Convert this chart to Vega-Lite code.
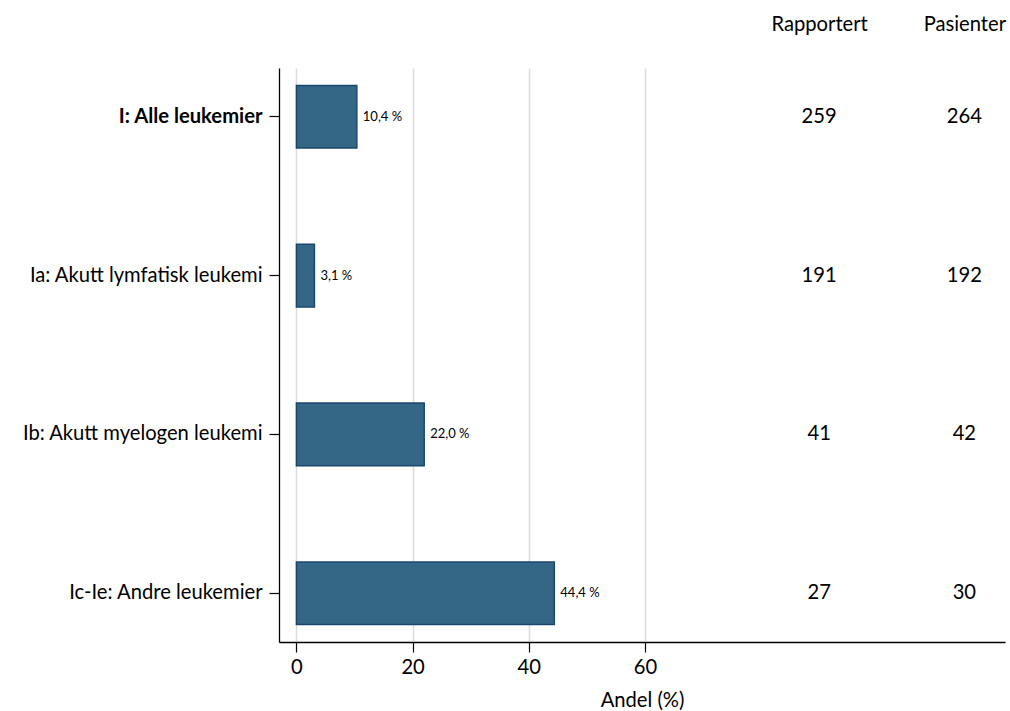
{
  "$schema": "https://vega.github.io/schema/vega-lite/v6.json",
  "width": 726,
  "height": 574,
  "autosize": "none",
  "padding": {"left": 279, "top": 68, "right": 5, "bottom": 69},
  "background": "white",
  "config": {
    "font": "Lato",
    "view": {"stroke": null},
    "axis": {"labelColor": "#000000", "titleColor": "#000000", "domainColor": "#000000", "tickColor": "#000000"}
  },
  "data": {
    "values": [
      {"gruppe": "I: Alle leukemier\u00a0", "andel": 10.4, "etikett": "10,4 %", "rapportert": 259, "pasienter": 264},
      {"gruppe": "Ia: Akutt lymfatisk leukemi", "andel": 3.1, "etikett": "3,1 %", "rapportert": 191, "pasienter": 192},
      {"gruppe": "Ib: Akutt myelogen leukemi", "andel": 22.0, "etikett": "22,0 %", "rapportert": 41, "pasienter": 42},
      {"gruppe": "Ic-Ie: Andre leukemier\u00a0", "andel": 44.4, "etikett": "44,4 %", "rapportert": 27, "pasienter": 30}
    ]
  },
  "encoding": {
    "y": {
      "field": "gruppe",
      "type": "nominal",
      "sort": null,
      "scale": {"paddingInner": 0.606, "paddingOuter": 0.11},
      "axis": {
        "title": null,
        "labelFontSize": 20.2,
        "labelLimit": 400,
        "labelPadding": 7,
        "tickSize": 10,
        "tickWidth": 1.2,
        "domainWidth": 1.3,
        "grid": false,
        "labelFontWeight": {"expr": "indexof(datum.value, 'I: Alle') == 0 ? 'bold' : 'normal'"}
      }
    }
  },
  "layer": [
    {
      "mark": {"type": "bar", "fill": "#346686", "stroke": "#1a476f", "strokeWidth": 1.5},
      "encoding": {
        "x": {
          "field": "andel",
          "type": "quantitative",
          "scale": {"domain": [-3, 122], "nice": false, "zero": false},
          "axis": {
            "orient": "bottom",
            "values": [0, 20, 40, 60],
            "title": "Andel (%)",
            "titleFontSize": 20.2,
            "titleFontWeight": "normal",
            "titlePadding": 13,
            "labelFontSize": 20.2,
            "labelPadding": 5,
            "tickSize": 10,
            "tickWidth": 1.2,
            "domainWidth": 1.3,
            "grid": true,
            "gridColor": "#dcdcdc",
            "gridWidth": 1.5
          }
        }
      }
    },
    {
      "mark": {"type": "text", "align": "left", "baseline": "middle", "dx": 6, "fontSize": 13, "color": "#000000"},
      "encoding": {
        "x": {"field": "andel", "type": "quantitative", "scale": {"domain": [-3, 122], "nice": false, "zero": false}, "axis": null},
        "text": {"field": "etikett"}
      }
    },
    {
      "mark": {"type": "text", "align": "center", "baseline": "middle", "fontSize": 20.2, "color": "#000000"},
      "encoding": {
        "x": {
          "datum": 90,
          "type": "quantitative",
          "scale": {"domain": [-3, 122], "nice": false, "zero": false},
          "axis": {
            "orient": "top",
            "values": [90, 115],
            "labelExpr": "datum.value == 90 ? 'Rapportert' : 'Pasienter'",
            "title": null,
            "domain": false,
            "ticks": false,
            "tickSize": 0,
            "grid": false,
            "labelFontSize": 20.2,
            "labelPadding": 34
          }
        },
        "text": {"field": "rapportert"}
      }
    },
    {
      "mark": {"type": "text", "align": "center", "baseline": "middle", "fontSize": 20.2, "color": "#000000"},
      "encoding": {
        "x": {"datum": 115, "type": "quantitative", "scale": {"domain": [-3, 122], "nice": false, "zero": false}, "axis": null},
        "text": {"field": "pasienter"}
      }
    }
  ],
  "resolve": {"axis": {"x": "independent"}}
}
